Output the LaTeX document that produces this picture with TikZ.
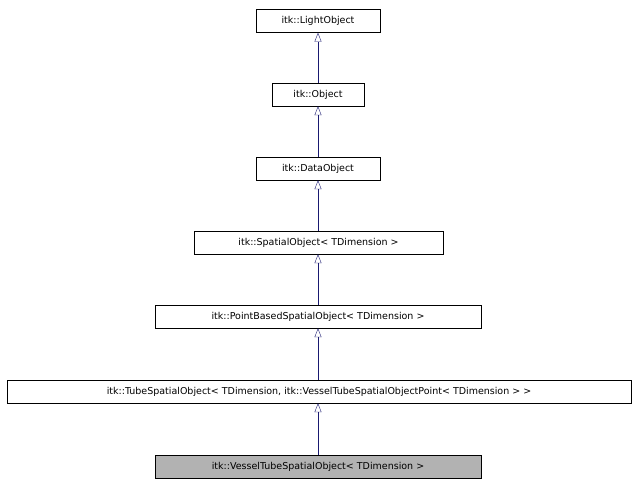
\documentclass[tikz,border=0pt]{standalone}
\usepackage{fontspec}
\setmainfont{DejaVu Sans}
\usetikzlibrary{arrows.meta}
\tikzset{
  cls/.style={draw=black, fill=white, minimum height=23pt, inner sep=0pt, font=\fontsize{9.5}{11}\selectfont},
  cur/.style={cls, fill=gray!60},
  inh/.style={draw=blue!25!black!80!blue, -{Triangle[open=false, length=9pt, width=7pt]}, color={rgb,255:red,25;green,25;blue,112}}
}
\begin{document}
\begin{tikzpicture}[x=1pt, y=-1pt]
  \useasboundingbox (0,0) rectangle (635,485);

  \node[cls, minimum width=124pt] (light) at (318,21) {itk::LightObject};
  \node[cls, minimum width=92pt] (obj) at (318,94.5) {itk::Object};
  \node[cls, minimum width=124pt] (data) at (318,168.5) {itk::DataObject};
  \node[cls, minimum width=249pt] (spatial) at (318.5,242.5) {itk::SpatialObject< TDimension >};
  \node[cls, minimum width=326pt] (point) at (318,316.5) {itk::PointBasedSpatialObject< TDimension >};
  \node[cls, minimum width=624pt] (tube) at (319,391.5) {itk::TubeSpatialObject< TDimension, itk::VesselTubeSpatialObjectPoint< TDimension > >};
  \node[cur, minimum width=326pt] (vessel) at (318,466.5) {itk::VesselTubeSpatialObject< TDimension >};

  % inheritance
  \foreach \c/\p in {obj/light, data/obj, spatial/data, point/spatial, tube/point, vessel/tube} {
    \draw[inh] (\c.north -| light.south) -- (light.south |- \p.south);
  }
\end{tikzpicture}
\end{document}
